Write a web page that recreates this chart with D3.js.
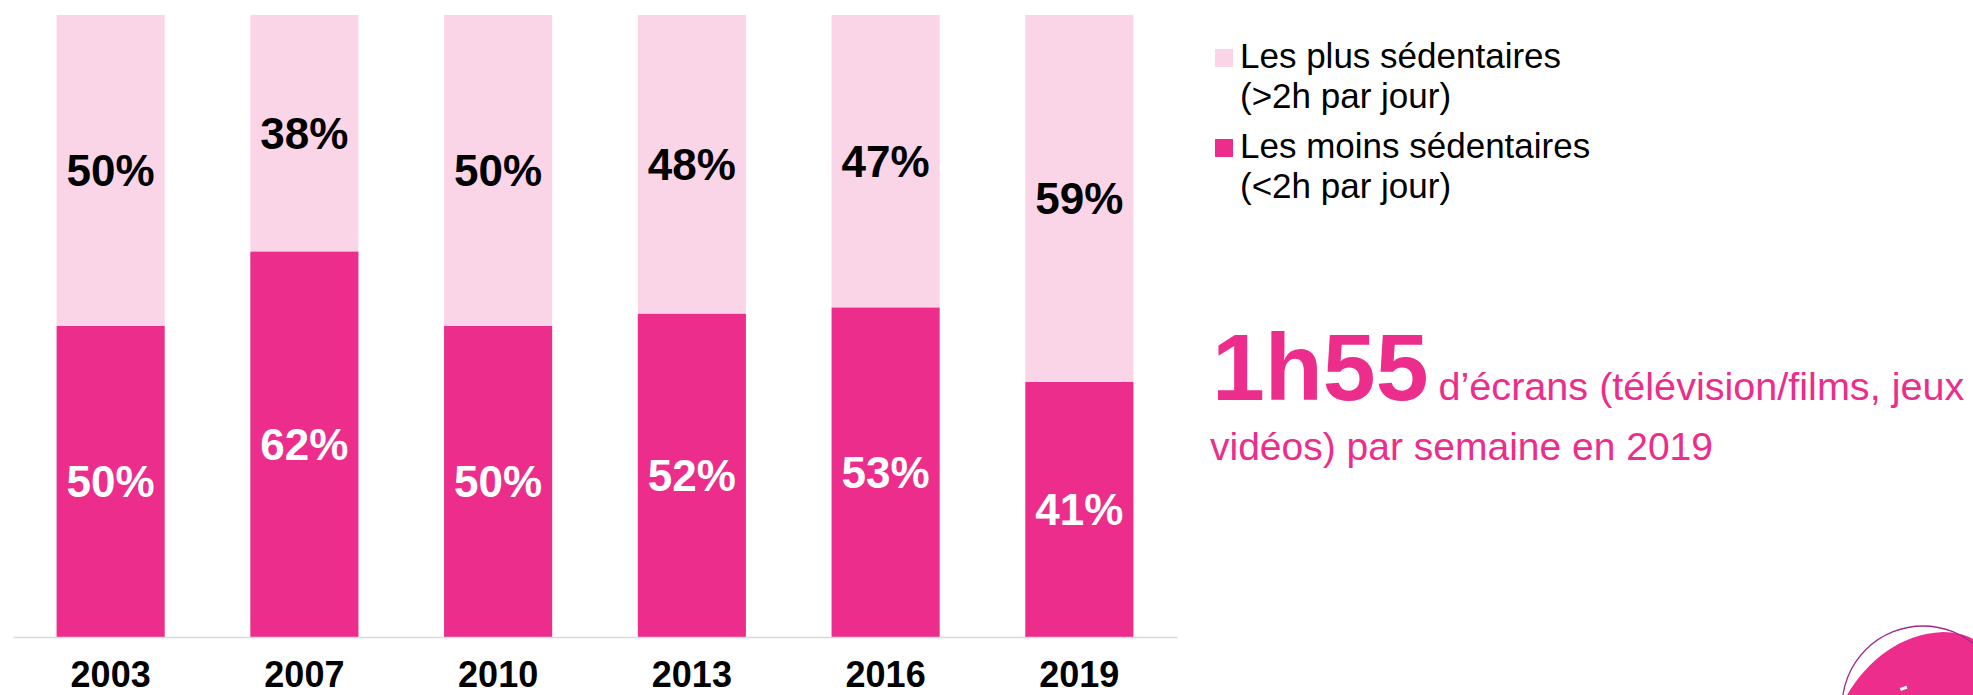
<!DOCTYPE html>
<html lang="fr">
<head>
<meta charset="utf-8">
<script src="https://cdn.jsdelivr.net/npm/d3@7/dist/d3.min.js"></script>
<style>
  html, body { margin: 0; padding: 0; background: #ffffff; }
  svg { display: block; font-family: "Liberation Sans", Arial, Helvetica, sans-serif; }
</style>
</head>
<body>
<svg id="chart" width="1973" height="695"></svg>
<script>
// Part des jeunes selon le temps d'écran quotidien
const years = ["2003", "2007", "2010", "2013", "2016", "2019"];
const moinsSedentaires = [50, 62, 50, 52, 53, 41];   // <2h par jour
const plusSedentaires  = [50, 38, 50, 48, 47, 59];   // >2h par jour
const seriesKeys = ["moins", "plus"];
const legendLabels = [
  ["Les plus sédentaires", "(>2h par jour)"],
  ["Les moins sédentaires", "(<2h par jour)"]
];
const highlightValue = "1h55";
const highlightText = ["d’écrans (télévision/films, jeux", "vidéos) par semaine en 2019"];

const DARK = "#ec2d8b";
const LIGHT = "#fad5e8";

const svg = d3.select("#chart");

const rows = years.map((y, i) => ({ year: y, moins: moinsSedentaires[i], plus: plusSedentaires[i] }));

const x = d3.scaleBand()
  .domain(years)
  .range([13, 1177])
  .paddingInner(0.442)
  .paddingOuter(0.225);

const y = d3.scaleLinear().domain([0, 100]).range([637, 15]);

const color = d3.scaleOrdinal().domain(seriesKeys).range([DARK, LIGHT]);

const stacked = d3.stack().keys(seriesKeys)(rows);

// stacked bars
const layers = svg.append("g").selectAll("g")
  .data(stacked)
  .join("g")
  .attr("fill", d => color(d.key));

layers.selectAll("rect")
  .data(d => d)
  .join("rect")
  .attr("x", d => x(d.data.year))
  .attr("width", x.bandwidth())
  .attr("y", d => y(d[1]))
  .attr("height", d => y(d[0]) - y(d[1]));

// segment value labels
layers.each(function(layer) {
  d3.select(this).selectAll("text")
    .data(layer)
    .join("text")
    .attr("x", d => x(d.data.year) + x.bandwidth() / 2)
    .attr("y", d => (y(d[0]) + y(d[1])) / 2)
    .attr("dy", "0.36em")
    .attr("text-anchor", "middle")
    .attr("font-size", 44)
    .attr("font-weight", "bold")
    .attr("fill", layer.key === "moins" ? "#ffffff" : "#000000")
    .text(d => (d[1] - d[0]) + "%");
});

// category axis
const xAxis = svg.append("g")
  .attr("transform", `translate(0,${y(0)})`)
  .call(d3.axisBottom(x).tickSize(0).tickPadding(24).tickSizeOuter(0));
xAxis.select(".domain").attr("stroke", "#d9d9d9").attr("stroke-width", 1.5);
xAxis.selectAll(".tick text")
  .attr("font-family", "\"Liberation Sans\", Arial, sans-serif")
  .attr("font-size", 36)
  .attr("font-weight", "bold")
  .attr("fill", "#000000");

// legend
const legendOrder = ["plus", "moins"];
const legend = svg.append("g").attr("transform", "translate(1215,0)");
legendOrder.forEach((key, i) => {
  const top = 49 + i * 90;
  legend.append("rect")
    .attr("x", 0).attr("y", top)
    .attr("width", 18).attr("height", 18)
    .attr("fill", color(key));
  const t = legend.append("text")
    .attr("x", 25).attr("y", top + 19)
    .attr("font-size", 35)
    .attr("fill", "#000000");
  legendLabels[i].forEach((line, j) => {
    t.append("tspan").attr("x", 25).attr("dy", j === 0 ? 0 : 40).text(line);
  });
});

// highlighted figure
const note = svg.append("g");
const big = note.append("text")
  .attr("x", 1212).attr("y", 400)
  .attr("font-size", 95)
  .attr("font-weight", "bold")
  .attr("fill", DARK)
  .text(highlightValue);
const bigW = big.node().getComputedTextLength();
note.append("text")
  .attr("x", 1212 + bigW + 10).attr("y", 400)
  .attr("font-size", 39.6)
  .attr("fill", DARK)
  .text(highlightText[0]);
note.append("text")
  .attr("x", 1210).attr("y", 460)
  .attr("font-size", 39)
  .attr("fill", DARK)
  .text(highlightText[1]);

// corner logo
const logo = svg.append("g");
logo.append("path")
  .attr("d", "M1847,695 C1868,660 1900,634 1943,632 C1955,632 1966,635 1973,639 L1973,695 Z")
  .attr("fill", DARK);
logo.append("circle")
  .attr("cx", 1923).attr("cy", 707).attr("r", 81)
  .attr("fill", "none")
  .attr("stroke", "#a02a8c")
  .attr("stroke-width", 1.3);
logo.append("rect")
  .attr("x", 1900).attr("y", 687).attr("width", 7).attr("height", 3)
  .attr("transform", "rotate(-20,1903,688)")
  .attr("fill", "#ffffff");
</script>
</body>
</html>
